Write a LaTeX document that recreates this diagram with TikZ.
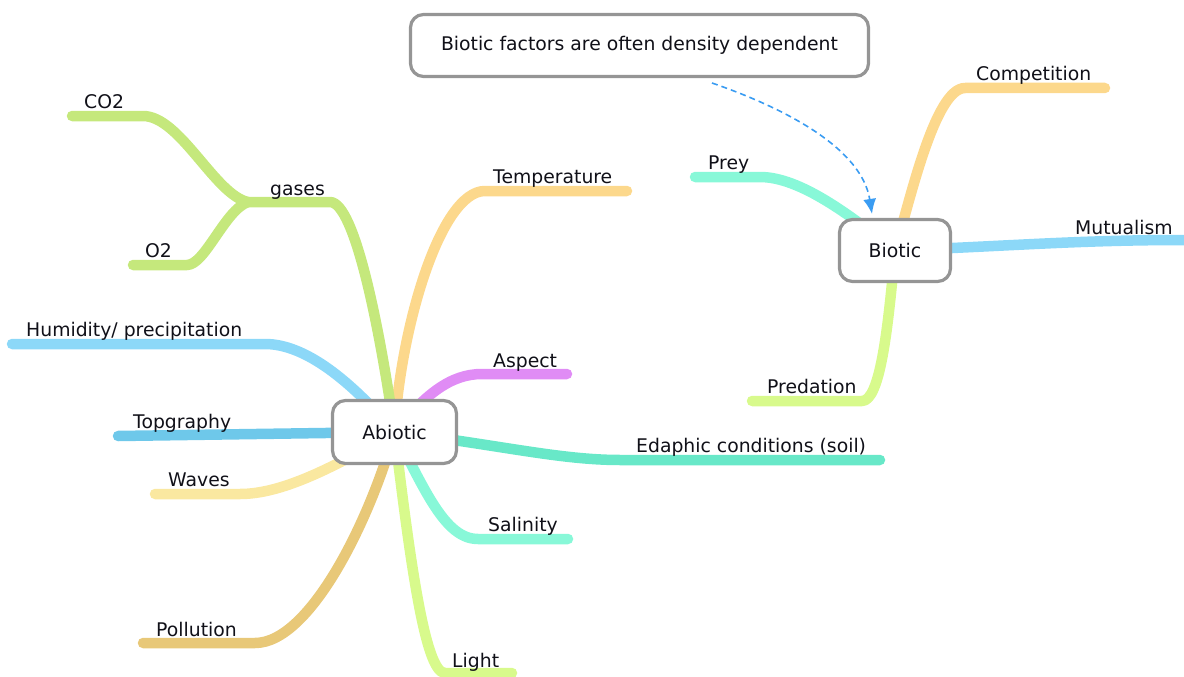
\documentclass[tikz,border=0pt]{standalone}
\usepackage{fontspec}
\setmainfont{DejaVu Sans}
\usetikzlibrary{arrows.meta,backgrounds,calc}
\definecolor{cgreen}{HTML}{C5E87C}
\definecolor{corange}{HTML}{FCD88C}
\definecolor{cblue}{HTML}{8CD8F8}
\definecolor{cpurple}{HTML}{E08CF5}
\definecolor{ctopo}{HTML}{6EC8EA}
\definecolor{cteal}{HTML}{68E8C8}
\definecolor{cwave}{HTML}{FAE8A0}
\definecolor{cmint}{HTML}{88F8D8}
\definecolor{ctan}{HTML}{E8C878}
\definecolor{clime}{HTML}{D8FA8C}
\definecolor{boxgray}{HTML}{959595}
\definecolor{arrowblue}{HTML}{3A9CF2}
\definecolor{txt}{HTML}{101018}
\begin{document}
\begin{tikzpicture}[x=1pt,y=-1pt,
  hub/.style={draw=boxgray, line width=3.2pt, fill=white, rounded corners=13pt,
    font=\fontsize{18.8}{22}\selectfont, text=txt},
  lbl/.style={anchor=base west, inner sep=0pt, font=\fontsize{18.8}{22}\selectfont, text=txt},
  branch/.style={line width=10.5pt, line cap=round, line join=round},
  notearrow/.style={draw=arrowblue, line width=1.6pt, dash pattern=on 6pt off 4pt,
    -{Latex[length=15pt,width=13pt]}, arrowblue}
]
\useasboundingbox (0,0) rectangle (1184,677);

% hubs
\node[hub, minimum width=124pt, minimum height=63pt] (ab) at (394.5,432) {Abiotic};
\node[hub, minimum width=111pt, minimum height=62pt] (bi) at (895,250.5) {Biotic};
\node[hub, minimum width=458pt, minimum height=62pt] (note) at (639.5,45.5) {Biotic factors are often density dependent};

% labels
\node[lbl] (co2) at (84,108) {CO2};
\node[lbl] (gases) at (270,195) {gases};
\node[lbl] (o2) at (145,257) {O2};
\node[lbl] (hum) at (26,336) {Humidity/ precipitation};
\node[lbl] (topo) at (133,428) {Topgraphy};
\node[lbl] (wave) at (168,486) {Waves};
\node[lbl] (poll) at (156,636) {Pollution};
\node[lbl] (light) at (452,667) {Light};
\node[lbl] (sal) at (488,531) {Salinity};
\node[lbl] (temp) at (493,183) {Temperature};
\node[lbl] (asp) at (493,367) {Aspect};
\node[lbl] (eda) at (636,452) {Edaphic conditions (soil)};
\node[lbl] (prey) at (708,169) {Prey};
\node[lbl] (pred) at (767,393) {Predation};
\node[lbl] (comp) at (976,81) {Competition};
\node[lbl] (mut) at (1075,234) {Mutualism};

% branch ends
\coordinate (gj) at (248,202);
\coordinate (co2e) at (72,116);
\coordinate (o2e) at (133,265);
\coordinate (hume) at (12,344);
\coordinate (topoe) at (118,436);
\coordinate (wavee) at (155,494);
\coordinate (polle) at (143,643);
\coordinate (lighte) at (512,673);
\coordinate (saline) at (568,539);
\coordinate (edae) at (880,460);
\coordinate (aspe) at (567,374);
\coordinate (tempe) at (627,191);
\coordinate (compe) at (1105,88);
\coordinate (mute) at (1184,240);
\coordinate (preye) at (695,177);
\coordinate (prede) at (752,401);
\coordinate (ns) at (712,83);

\begin{pgfonlayer}{background}
\draw[branch, corange] (ab.center) .. controls (400,330) and (440,191) .. (485,191) -- (tempe);
\draw[branch, cgreen] (ab.center) .. controls (380,330) and (355,202) .. (330,202) -- (gj);
\draw[branch, cgreen] (gj) .. controls (215,195) and (180,116) .. (143,116) -- (co2e);
\draw[branch, cgreen] (gj) .. controls (225,210) and (205,265) .. (187,265) -- (o2e);
\draw[branch, cblue] (ab.center) .. controls (350,380) and (305,344) .. (265,344) -- (hume);
\draw[branch, cpurple] (ab.center) .. controls (425,395) and (450,374) .. (482,374) -- (aspe);
\draw[branch, ctopo] (ab.center) -- (topoe);
\draw[branch, cteal] (ab.center) .. controls (500,445) and (560,460) .. (620,460) -- (edae);
\draw[branch, cwave] (ab.center) .. controls (330,470) and (280,494) .. (240,494) -- (wavee);
\draw[branch, cmint] (ab.center) .. controls (425,490) and (445,539) .. (478,539) -- (saline);
\draw[branch, ctan] (ab.center) .. controls (370,520) and (310,643) .. (255,643) -- (polle);
\draw[branch, clime] (ab.center) .. controls (410,560) and (425,673) .. (445,673) -- (lighte);
\draw[branch, corange] (bi.center) .. controls (910,200) and (935,88) .. (965,88) -- (compe);
\draw[branch, cblue, line cap=butt] (bi.center) .. controls (1010,246) and (1080,240) .. (mute);
\draw[branch, cmint] (bi.center) .. controls (850,215) and (800,177) .. (760,177) -- (preye);
\draw[branch, clime] (bi.center) .. controls (888,330) and (880,401) .. (862,401) -- (prede);
\end{pgfonlayer}

\draw[notearrow] (ns) .. controls (790,110) and (862,150) .. ($(bi.north)+(-23,-4)$);
\end{tikzpicture}
\end{document}
